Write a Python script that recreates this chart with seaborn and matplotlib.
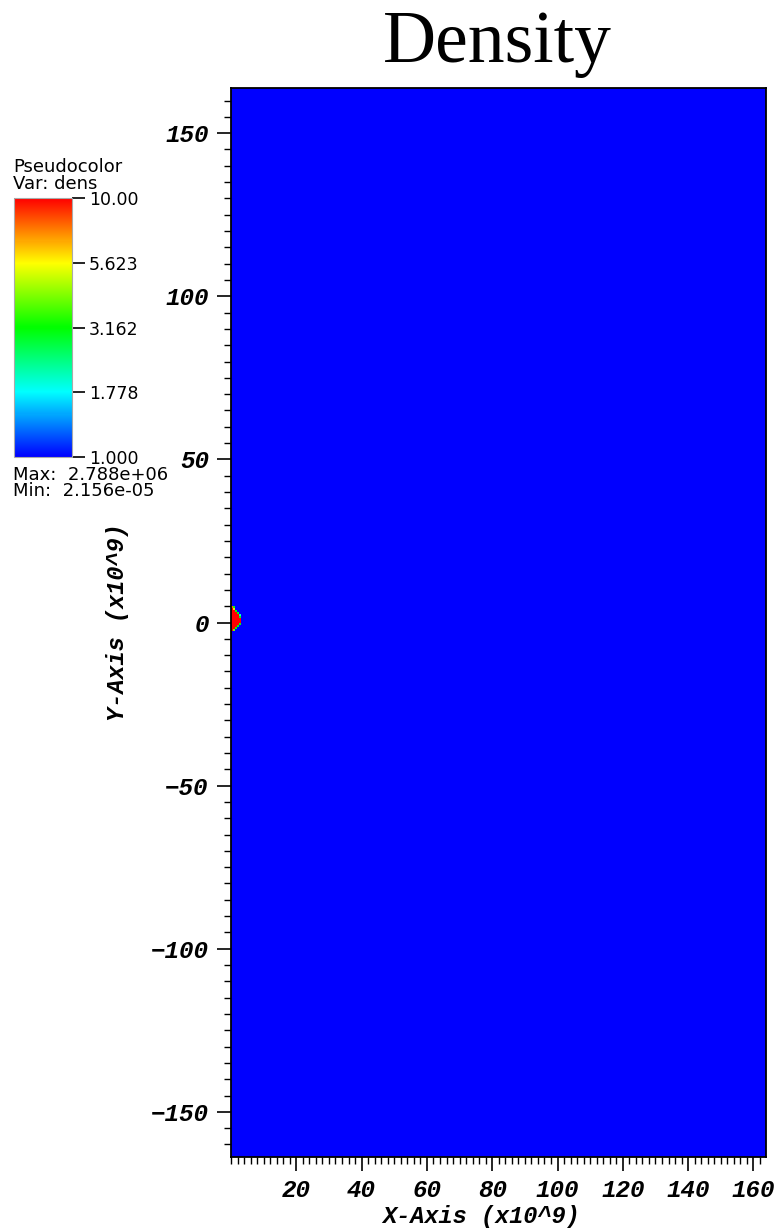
import numpy as np
import seaborn as sns
import matplotlib
matplotlib.use("Agg")
import matplotlib.pyplot as plt
from matplotlib.colors import LogNorm
from matplotlib.ticker import FixedLocator, MultipleLocator
from matplotlib.font_manager import FontProperties

# --- data (units of 1e9) ---
domain_x = [0.0, 163.84]
domain_y = [-163.84, 163.84]
background_dens = 1.0
# small hot spot at the inner boundary, cells of 0.64 (x) by 0.64 (y)
blob_x_edges = [0.0, 0.64, 1.28, 1.92, 2.56, 3.20]
blob_y_edges = [-2.56, -1.92, -1.28, -0.64, 0.0, 0.64, 1.28, 1.92, 2.56, 3.20, 3.84, 4.48, 5.12]
blob_dens = [  # rows from bottom to top
    [10, 4, 1, 1, 1],
    [10, 10, 3, 1, 1],
    [10, 10, 10, 3, 1],
    [10, 10, 10, 10, 3],
    [10, 10, 10, 10, 10],
    [10, 10, 10, 10, 10],
    [10, 10, 10, 10, 3],
    [10, 10, 10, 10, 2],
    [10, 10, 10, 3, 1],
    [10, 10, 3, 1, 1],
    [10, 6, 1, 1, 1],
    [8, 3, 1, 1, 1],
]
cbar_ticks = [1.0, 1.778, 3.162, 5.623, 10.0]
cbar_labels = ["1.000", "1.778", "3.162", "5.623", "10.00"]
x_major = [20, 40, 60, 80, 100, 120, 140, 160]
y_major = [-150, -100, -50, 0, 50, 100, 150]
data_max = "2.788e+06"
data_min = "2.156e-05"

sns.set_style("white")
plt.rcParams.update({"text.color": "black", "xtick.color": "black",
                     "ytick.color": "black", "axes.labelcolor": "black"})

W, H = 779, 1230
fig = plt.figure(figsize=(W / 100, H / 100), dpi=100)

def fx(px):
    return px / W

def fy(py):
    return (H - py) / H

# full grid: blob cells plus one background cell around them
x_edges = np.array(blob_x_edges + [domain_x[1]])
y_edges = np.array([domain_y[0]] + blob_y_edges + [domain_y[1]])
vals = np.pad(np.array(blob_dens, dtype=float), ((1, 1), (0, 1)),
              constant_values=background_dens)

cmap = sns.blend_palette(["#0000ff", "#00ffff", "#00ff00", "#ffff00", "#ff0000"],
                         n_colors=256, as_cmap=True)
norm = LogNorm(vmin=1.0, vmax=10.0)

ax = fig.add_axes([fx(231), fy(1157), (766 - 231) / W, (1157 - 88) / H])
mesh = ax.pcolormesh(x_edges, y_edges, vals, cmap=cmap, norm=norm, shading="flat")
ax.set_xlim(domain_x)
ax.set_ylim(domain_y)

ax.xaxis.set_major_locator(FixedLocator(x_major))
ax.xaxis.set_minor_locator(MultipleLocator(2))
ax.yaxis.set_major_locator(FixedLocator(y_major))
ax.yaxis.set_minor_locator(MultipleLocator(5))
ax.tick_params(which="major", direction="out", length=10, width=1.2,
               color="black", pad=6, bottom=True, left=True)
ax.tick_params(which="minor", direction="out", length=5, width=1.0,
               color="black", bottom=True, left=True)
for sp in ax.spines.values():
    sp.set_color("black")
    sp.set_linewidth(1.3)

tick_fp = FontProperties(family="Liberation Mono", weight="bold", style="italic", size=17.5)
for lbl in ax.get_xticklabels() + ax.get_yticklabels():
    lbl.set_fontproperties(tick_fp)

label_fp = FontProperties(family="Liberation Mono", weight="bold", style="italic", size=17)
ax.set_xlabel("X-Axis (x10^9)", fontproperties=label_fp)
ax.set_ylabel("Y-Axis (x10^9)", fontproperties=label_fp)
ax.xaxis.set_label_coords((481 - 231) / 535, (1157 - 1205) / 1069)
ax.yaxis.set_label_coords((129 - 231) / 535, 0.5)

fig.text(fx(497), fy(62), "Density", family="Liberation Serif", fontsize=53,
         ha="center", va="baseline")

# colorbar legend
cax = fig.add_axes([fx(14), fy(457), (72 - 14) / W, (457 - 198) / H])
cb = fig.colorbar(mesh, cax=cax, ticks=cbar_ticks)
cb.minorticks_off()
cb.set_ticks(cbar_ticks, labels=cbar_labels)
cb.outline.set_edgecolor("#aaaaaa")
cb.outline.set_linewidth(0.8)
cax.tick_params(length=9, width=1.2, color="black", pad=3, labelsize=12.5)
for lbl in cax.get_yticklabels():
    lbl.set_family("DejaVu Sans")

small = dict(family="DejaVu Sans", fontsize=13, ha="left", va="baseline")
fig.text(fx(13), fy(172), "Pseudocolor", **small)
fig.text(fx(13), fy(189), "Var: dens", **small)
fig.text(fx(13), fy(480), "Max:  " + data_max, **small)
fig.text(fx(13), fy(496), "Min:  " + data_min, **small)

fig.savefig("out.png", dpi=100)
